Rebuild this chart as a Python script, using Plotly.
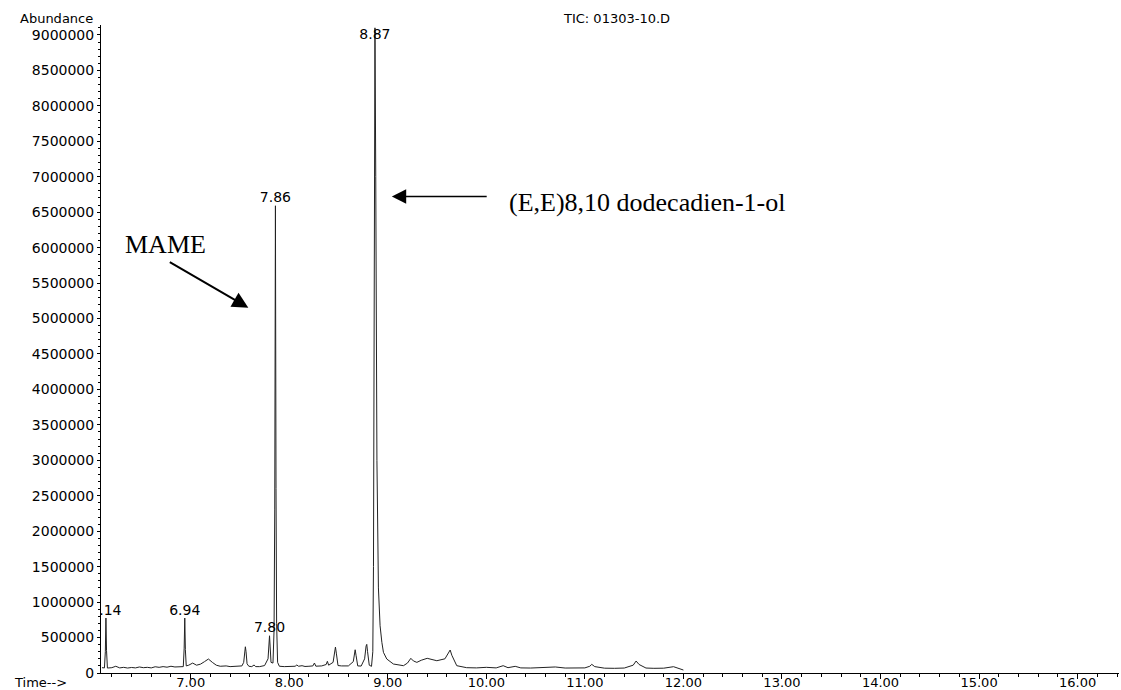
import plotly.graph_objects as go

# Chromatogram trace (time in min, abundance)
time_min = [
    6.100, 6.125, 6.134, 6.140, 6.146, 6.155, 6.20, 6.24, 6.28, 6.32, 6.36, 6.40, 6.44,
    6.48, 6.52, 6.56, 6.60, 6.64, 6.68, 6.72, 6.76, 6.80, 6.84, 6.88, 6.925, 6.934,
    6.940, 6.946, 6.955, 6.98, 7.02, 7.06, 7.10, 7.14, 7.18, 7.22, 7.26, 7.30, 7.36,
    7.40, 7.46, 7.52, 7.538, 7.548, 7.555, 7.562, 7.572, 7.59, 7.62, 7.643, 7.66,
    7.70, 7.75, 7.785, 7.795, 7.800, 7.806, 7.815, 7.835, 7.846, 7.853, 7.860, 7.866,
    7.872, 7.882, 7.90, 7.95, 8.02, 8.06, 8.077, 8.095, 8.13, 8.16, 8.20, 8.24, 8.256,
    8.27, 8.33, 8.375, 8.387, 8.40, 8.445, 8.460, 8.469, 8.478, 8.495, 8.53, 8.60,
    8.650, 8.660, 8.669, 8.678, 8.695, 8.73, 8.765, 8.780, 8.787, 8.795, 8.812, 8.835,
    8.848, 8.855, 8.862, 8.870, 8.878, 8.890, 8.905, 8.922, 8.940, 8.956, 8.99, 9.057,
    9.159, 9.20, 9.234, 9.26, 9.295, 9.34, 9.40, 9.45, 9.498, 9.58, 9.615, 9.633,
    9.650, 9.70, 9.80, 9.90, 10.00, 10.10, 10.171, 10.22, 10.293, 10.35, 10.45, 10.55,
    10.70, 10.80, 10.90, 11.00, 11.05, 11.07, 11.10, 11.20, 11.30, 11.40, 11.49, 11.52,
    11.55, 11.62, 11.70, 11.80, 11.90, 11.95, 12.00,
]
abundance = [
    75000, 72000, 300000, 775000, 320000, 70000, 75000, 95000, 72000, 80000, 70000, 78000, 72000,
    85000, 75000, 80000, 72000, 88000, 80000, 90000, 82000, 95000, 85000, 92000, 90000, 350000,
    775000, 330000, 100000, 110000, 140000, 110000, 125000, 160000, 197000, 150000, 110000, 95000, 100000,
    90000, 95000, 100000, 150000, 320000, 370000, 300000, 130000, 95000, 90000, 113000, 90000,
    90000, 105000, 200000, 420000, 525000, 380000, 150000, 140000, 600000, 2300000, 6590000, 2600000,
    700000, 150000, 95000, 90000, 92000, 95000, 113000, 95000, 103000, 92000, 95000, 100000, 141000,
    96000, 100000, 120000, 165000, 110000, 150000, 330000, 366000, 280000, 105000, 100000, 100000,
    160000, 300000, 328000, 250000, 100000, 98000, 200000, 380000, 404000, 300000, 110000, 94000,
    300000, 1500000, 6000000, 9100000, 7000000, 3000000, 1200000, 666000, 432000, 291000, 197000, 127000,
    103000, 140000, 207000, 170000, 150000, 180000, 207000, 195000, 173000, 200000, 290000, 324000,
    250000, 103000, 75000, 72000, 80000, 72000, 103000, 75000, 94000, 72000, 70000, 74000,
    85000, 70000, 68000, 72000, 95000, 122000, 90000, 68000, 66000, 70000, 110000, 169000,
    120000, 70000, 66000, 68000, 89000, 70000, 42000,
]

# Peak labels
label_text = ["6.14", "6.94", "7.80", "7.86", "8.87"]
label_rt = [6.14, 6.94, 7.80, 7.86, 8.87]
label_y = [775000, 775000, 525000, 6590000, 8900000]

y_ticks = list(range(0, 9000001, 500000))
x_ticks = [7, 8, 9, 10, 11, 12, 13, 14, 15, 16]
x_range = [6.09, 16.42]

tick_font = dict(family="DejaVu Sans", size=14, color="black")
xtick_font = dict(family="DejaVu Sans", size=13, color="black")

fig = go.Figure()
fig.add_trace(go.Scatter(
    x=time_min, y=abundance, mode="lines",
    line=dict(color="#222222", width=1), hoverinfo="skip", showlegend=False,
))
fig.add_trace(go.Scatter(
    x=label_rt, y=label_y, mode="text", text=label_text, xaxis="x2", yaxis="y",
    textposition="top center", textfont=tick_font,
    cliponaxis=True, hoverinfo="skip", showlegend=False,
))

# axis with line and ticks (no labels)
fig.update_layout(
    xaxis=dict(
        range=x_range, tickvals=x_ticks, showticklabels=False,
        ticks="outside", ticklen=5, tickwidth=1, tickcolor="black",
        minor=dict(dtick=0.2, tick0=6.0, ticks="outside", ticklen=3, tickcolor="black"),
        showline=True, linecolor="black", linewidth=1, showgrid=False, zeroline=False,
        automargin=False, fixedrange=True,
    ),
    # overlaid axis carrying only the tick labels, set tight to the axis line
    xaxis2=dict(
        range=x_range, matches="x", overlaying="x", anchor="y", side="bottom",
        tickvals=x_ticks, tickformat=".2f", ticks="", ticklen=0,
        showline=False, showgrid=False, zeroline=False,
        tickfont=xtick_font, automargin=False, fixedrange=True,
    ),
    yaxis=dict(
        range=[0, 9140000], tickvals=y_ticks, tickformat="d",
        ticks="outside", ticklen=3, tickwidth=1, tickcolor="black",
        minor=dict(dtick=100000, ticks="outside", ticklen=2, tickcolor="black"),
        showline=True, linecolor="black", linewidth=1, showgrid=False, zeroline=False,
        tickfont=tick_font, automargin=False, fixedrange=True,
    ),
)

small_font = dict(family="DejaVu Sans", size=13, color="black")
serif_font = dict(family="Liberation Serif", size=26, color="black")

annotations = [
    dict(text="Abundance", xref="paper", yref="paper", x=-0.0442, y=1.0108,
         xanchor="center", yanchor="middle", showarrow=False, font=small_font),
    dict(text="TIC: 01303-10.D", xref="paper", yref="paper", x=0.5059, y=1.0108,
         xanchor="center", yanchor="middle", showarrow=False, font=small_font),
    dict(text="Time-->", xref="paper", yref="paper", x=-0.0599, y=-0.015,
         xanchor="center", yanchor="middle", showarrow=False, font=small_font),
    dict(text="MAME", xref="x", yref="y", x=6.745, y=6040000,
         xanchor="center", yanchor="middle", showarrow=False, font=serif_font),
    dict(text="(E,E)8,10 dodecadien-1-ol", xref="x", yref="y", x=10.21, y=6630000,
         xanchor="left", yanchor="middle", showarrow=False, font=serif_font),
    dict(text="", xref="x", yref="y", x=7.585, y=5151000,
         axref="x", ayref="y", ax=6.773, ay=5807000,
         showarrow=True, arrowhead=2, arrowsize=1.6, arrowwidth=2, arrowcolor="black"),
    dict(text="", xref="x", yref="y", x=9.041, y=6720000,
         axref="x", ayref="y", ax=10.019, ay=6720000,
         showarrow=True, arrowhead=2, arrowsize=1.8, arrowwidth=1.6, arrowcolor="black"),
]

fig.update_layout(
    width=1121, height=690,
    margin=dict(l=101, r=2, t=25, b=17, pad=0, autoexpand=False),
    paper_bgcolor="white", plot_bgcolor="white",
    annotations=annotations,
    showlegend=False,
)

fig.write_html(
    "out.html",
    config={"displayModeBar": False, "staticPlot": True},
    post_script="document.body.style.margin='0';document.body.style.overflow='hidden';",
)
